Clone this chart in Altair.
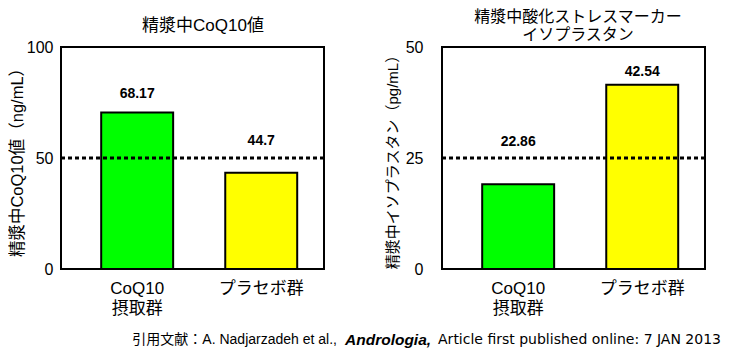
import altair as alt
import pandas as pd

FONT = "Liberation Sans, Noto Sans CJK JP"
FOOT_FONT = "DejaVu Sans, Noto Sans CJK JP"

groups = ["CoQ10\n摂取群", "プラセボ群"]
bar_colors = ["#00FF00", "#FFFF00"]

# left panel: CoQ10 in seminal plasma
coq10_title = ["精漿中CoQ10値"]
coq10_ytitle = "精漿中CoQ10値（ng/mL）"
coq10_bar = [70.5, 43.3]
coq10_text = ["68.17", "44.7"]
coq10_label_at = [79.0, 57.5]
coq10_ticks = [0, 50, 100]
coq10_ref = [50]

# right panel: isoprostane
iso_title = ["精漿中酸化ストレスマーカー", "イソプラスタン"]
iso_ytitle = "精漿中イソプラスタン（pg/mL）"
iso_bar = [19.1, 41.5]
iso_text = ["22.86", "42.54"]
iso_label_at = [28.7, 44.3]
iso_ticks = [0, 25, 50]
iso_ref = [25]

footer_parts = ["引用文献：A. Nadjarzadeh et al.,", "Andrologia,",
                "Article first published online: 7 JAN 2013"]

W, H = 263, 222
dummy = pd.DataFrame({"a": [0]})


def panel(bar_vals, texts, label_at, ticks, ref, title_lines, title_ys,
          title_fs, title_x, ytitle, ytitle_fs, ytitle_pad, ylabel_pad):
    df = pd.DataFrame({"group": groups, "value": bar_vals, "text": texts,
                       "label_at": label_at, "color": bar_colors})
    xscale = alt.Scale(paddingInner=0.42, paddingOuter=0.27, align=0.6)
    xaxis = alt.Axis(title=None, labelAngle=0,
                     labelExpr="split(datum.label, '\\n')",
                     labelFontSize=17, labelFont=FONT, labelColor="black",
                     labelPadding=11, labelLineHeight=20, ticks=False,
                     domain=False, grid=False)
    yscale = alt.Scale(domain=[ticks[0], ticks[-1]], nice=False)
    yaxis = alt.Axis(values=ticks, title=ytitle, titleFont=FONT,
                     titleFontSize=ytitle_fs, titleFontWeight="normal",
                     titleColor="black", titlePadding=ytitle_pad,
                     labelFont=FONT, labelFontSize=16, labelColor="black",
                     labelPadding=ylabel_pad, ticks=False, domain=False,
                     grid=False)
    x = alt.X("group:N", sort=groups, scale=xscale, axis=xaxis)
    bars = alt.Chart(df).mark_bar(stroke="black", strokeWidth=2).encode(
        x=x,
        y=alt.Y("value:Q", scale=yscale, axis=yaxis),
        color=alt.Color("color:N", scale=None),
    )
    rule = alt.Chart(pd.DataFrame({"ref": ref})).mark_rule(
        color="black", strokeWidth=3, strokeDash=[4, 3]
    ).encode(y=alt.Y("ref:Q", scale=yscale, axis=yaxis))
    labels = alt.Chart(df).mark_text(
        font=FONT, fontSize=14, fontWeight="bold", color="black",
        baseline="middle"
    ).encode(
        x=x,
        y=alt.Y("label_at:Q", scale=yscale, axis=yaxis),
        text="text:N",
    )
    layers = [bars, rule, labels]
    for line, ty in zip(title_lines, title_ys):
        layers.append(
            alt.Chart(dummy).mark_text(
                text=line, font=FONT, fontSize=title_fs, color="black",
                align="center", baseline="middle"
            ).encode(x=alt.value(title_x), y=alt.value(ty))
        )
    return alt.layer(*layers).properties(
        width=W, height=H,
        view=alt.ViewBackground(stroke="black", strokeWidth=2),
    )


left = panel(coq10_bar, coq10_text, coq10_label_at, coq10_ticks, coq10_ref,
             coq10_title, [-20.7], 17, 142,
             coq10_ytitle, 16.5, 1, 8)
right = panel(iso_bar, iso_text, iso_label_at, iso_ticks, iso_ref,
              iso_title, [-29.7, -11.7], 16, 136,
              iso_ytitle, 15, 5, 19)

f1 = alt.Chart(dummy).mark_text(text=footer_parts[0], font=FONT, fontSize=14,
                                align="right", baseline="middle",
                                color="black").encode(
    x=alt.value(276), y=alt.value(8))
f2 = alt.Chart(dummy).mark_text(text=footer_parts[1], font=FONT, fontSize=15.5,
                                fontWeight="bold", fontStyle="italic",
                                align="left", baseline="middle",
                                color="black").encode(
    x=alt.value(284), y=alt.value(8))
f3 = alt.Chart(dummy).mark_text(text=footer_parts[2], font=FOOT_FONT,
                                fontSize=14, align="right", baseline="middle",
                                color="black").encode(
    x=alt.value(660), y=alt.value(8))
footer = alt.layer(f1, f2, f3).properties(
    width=600, height=16,
    view=alt.ViewBackground(stroke="transparent"),
)

chart = alt.vconcat(
    alt.hconcat(left, right, spacing=57),
    footer,
    spacing=14,
).properties(padding=0).configure(font=FONT)

chart.save("out.html", embed_options={"renderer": "svg", "actions": False})
